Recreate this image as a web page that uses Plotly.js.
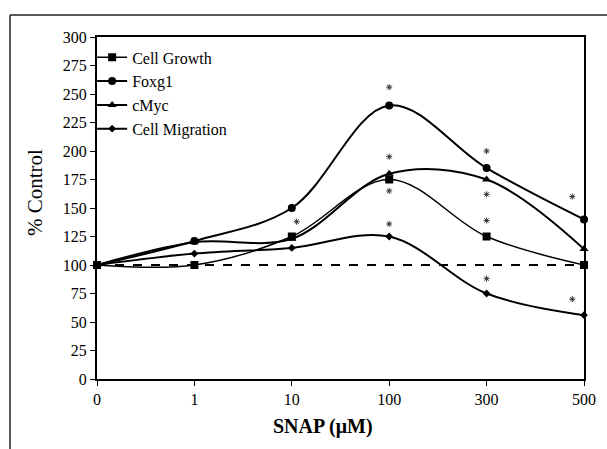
<!DOCTYPE html>
<html>
<head>
<meta charset="utf-8">
<script src="https://cdn.plot.ly/plotly-3.0.1.min.js"></script>
<style>html,body{margin:0;padding:0;background:#fff;}#chart{width:607px;height:449px;}</style>
</head>
<body>
<div id="chart"></div>
<script>
const categories = ['0', '1', '10', '100', '300', '500'];
const cellGrowth = [100, 100, 125, 175, 125, 100];
const foxg1 = [100, 121, 150, 240, 185, 140];
const cMyc = [100, 120, 123, 180, 175, 114];
const cellMigration = [100, 110, 115, 125, 75, 56];
const controlLevel = [100, 100, 100, 100, 100, 100];
// significance asterisks (category position, value)
const starX = [3, 3, 3, 3, 2.05, 4, 4, 4, 4, 4.88, 4.88];
const starY = [256, 195, 165, 136, 138, 200, 162, 139, 88, 160, 70];

const idx = categories.map((c, i) => i);
const font = 'Liberation Serif, Times New Roman, serif';

function series(name, y, symbol, size, width) {
  return {
    x: idx, y: y, name: name, type: 'scatter', mode: 'lines+markers',
    line: {color: '#000', width: width, shape: 'spline', smoothing: 1},
    marker: {symbol: symbol, size: size, color: '#000'},
    cliponaxis: false
  };
}

const data = [
  series('Cell Growth', cellGrowth, 'square', 8, 1.5),
  series('Foxg1', foxg1, 'circle', 8, 2),
  series('cMyc', cMyc, 'triangle-up', 8, 2),
  series('Cell Migration', cellMigration, 'diamond', 6, 2),
  {x: idx, y: controlLevel, type: 'scatter', mode: 'lines', showlegend: false,
   line: {color: '#000', width: 2, dash: 'dash'}, hoverinfo: 'skip'},
  {x: starX, y: starY, type: 'scatter', mode: 'markers',
   marker: {symbol: 'asterisk-open', size: 5, color: '#333', line: {color: '#333', width: 1}},
   showlegend: false, cliponaxis: false}
];

const layout = {
  width: 607, height: 449,
  margin: {l: 97, r: 23, t: 37, b: 70},
  paper_bgcolor: '#fff', plot_bgcolor: '#fff',
  font: {family: font, color: '#000', size: 16},
  showlegend: true,
  legend: {x: -0.01, y: 0.99, xanchor: 'left', yanchor: 'top', bgcolor: 'rgba(0,0,0,0)',
           font: {family: font, size: 16, color: '#000'}},
  xaxis: {
    range: [0, 5], tickmode: 'array', tickvals: idx, ticktext: categories,
    showgrid: false, zeroline: false, showline: true, linecolor: '#000', linewidth: 2, mirror: true,
    ticks: 'outside', ticklen: 5, tickwidth: 1, tickcolor: '#000',
    tickfont: {family: font, size: 16, color: '#000'}
  },
  yaxis: {
    range: [0, 300], tickmode: 'linear', tick0: 0, dtick: 25,
    showgrid: false, zeroline: false, showline: true, linecolor: '#000', linewidth: 2, mirror: true,
    ticks: 'outside', ticklen: 5, tickwidth: 1, tickcolor: '#000',
    tickfont: {family: font, size: 16, color: '#000'}
  },
  annotations: [
    {text: '% Control', xref: 'paper', yref: 'paper', x: -0.127, y: 0.544, textangle: -90,
     showarrow: false, xanchor: 'center', yanchor: 'middle', font: {family: font, size: 21, color: '#000'}},
    {text: '<b>SNAP (μM)</b>', xref: 'paper', yref: 'paper', x: 0.464, y: -0.14,
     showarrow: false, xanchor: 'center', yanchor: 'middle', font: {family: font, size: 20, color: '#000'}}
  ],
  shapes: [
    {type: 'line', xref: 'paper', yref: 'paper', x0: -0.1786, x1: -0.1786, y0: 1.064, y1: -0.3,
     line: {color: '#222', width: 1.5}},
    {type: 'line', xref: 'paper', yref: 'paper', x0: -0.1786, x1: 1.1, y0: 1.064, y1: 1.064,
     line: {color: '#222', width: 1.5}}
  ]
};

Plotly.newPlot('chart', data, layout, {displayModeBar: false, staticPlot: true});
</script>
</body>
</html>
